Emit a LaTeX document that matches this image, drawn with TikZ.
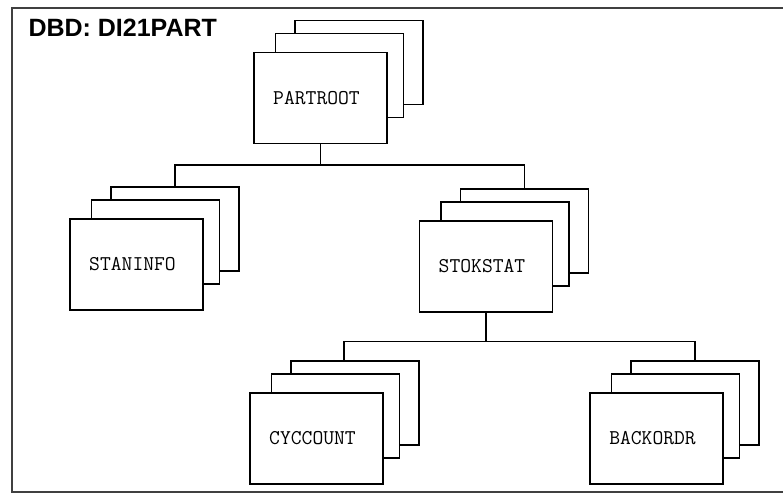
\documentclass[tikz,border=0pt]{standalone}
\usepackage{fontspec}
\setmainfont{Liberation Sans}
\usetikzlibrary{calc,positioning}

\begin{document}
\begin{tikzpicture}[x=1pt, y=1pt,
  seg/.style={draw, fill=white, line width=1.3pt, minimum width=133pt, minimum height=91pt,
    inner sep=0pt, font=\ttfamily\fontsize{21}{21}\selectfont},
  page/.style={draw, fill=white, line width=1.3pt, minimum width=128pt, minimum height=84pt, inner sep=0pt},
  link/.style={line width=1.3pt}]

\useasboundingbox (0,0) rectangle (783,494);

% Cornice e titolo
\draw[line width=1.6pt, black!75] (12,486) rectangle (800,2);
\node[anchor=base west, font=\bfseries\fontsize{25}{25}\selectfont] (title) at (25,457) {DBD: DI21PART};

% Segmenti (tre fogli ciascuno)
\foreach \n/\cx/\cy/\t in {partroot/320.5/396/PARTROOT, staninfo/136.5/229.5/STANINFO,
    stokstat/486/227.5/STOKSTAT, cyccount/316.5/55.5/CYCCOUNT, backordr/656.5/55.5/BACKORDR}{
  \node[page] (\n-b) at (\cx+38.5,\cy+35.5) {};
  \node[page] (\n-m) at (\cx+19,\cy+22.5) {};
  \node[seg] (\n) at (\cx,\cy) {\t\hspace*{8pt}};
}

% Collegamenti padre-figli
\draw[link] (partroot.south) -- ++(0,-21) coordinate (bus1);
\draw[link] (staninfo-b.north) |- (bus1) -| (stokstat-b.north);
\draw[link] (stokstat.south) -- ++(0,-29) coordinate (bus2);
\draw[link] ([xshift=-11pt]cyccount-b.north) |- (bus2) -| (backordr-b.north);

\end{tikzpicture}
\end{document}
